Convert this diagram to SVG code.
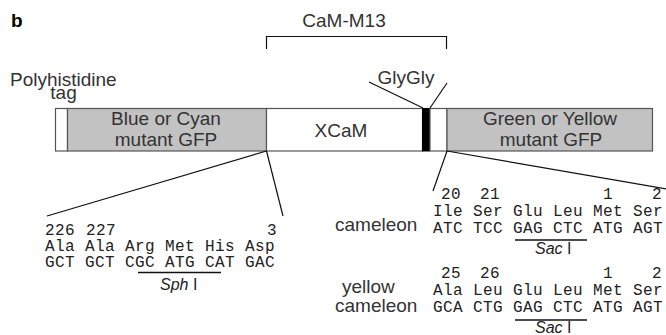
<svg xmlns="http://www.w3.org/2000/svg" width="666" height="335" viewBox="0 0 666 335">
<style>
.sans{font-family:"Liberation Sans",Arial,sans-serif;font-size:19px;fill:#333}
.mono{font-family:"Liberation Mono","Courier New",monospace;font-size:16px;letter-spacing:0.4px;fill:#222}
.site{font-family:"Liberation Sans",Arial,sans-serif;font-size:16px;fill:#222}
.box{stroke:#555;stroke-width:1.2}
.gray{fill:#c2c2c2}
.white{fill:#fff}
.ln{stroke:#111;stroke-width:1.2;fill:none}
.ul{stroke:#111;stroke-width:1.6}
</style>
<rect width="666" height="335" fill="#fff"/>
<text x="11" y="27" font-family="Liberation Sans,Arial,sans-serif" font-size="19" font-weight="bold" fill="#000">b</text>

<g id="label-cam-m13">
<text class="sans" x="344" y="27" text-anchor="middle" font-size="18">CaM-M13</text>
<path class="ln" d="M266.5,49 V36.5 H446.5 V49"/>
</g>

<g id="label-polyhis">
<text class="sans" x="10" y="86" font-size="18.5">Polyhistidine</text>
<text class="sans" x="63.5" y="99" text-anchor="middle" font-size="18.5">tag</text>
</g>

<g id="label-glygly">
<text class="sans" x="406" y="84" text-anchor="middle">GlyGly</text>
</g>

<g id="node-his">
<rect class="box white" x="55.5" y="108.5" width="12" height="42.5"/>
</g>
<g id="node-bcfp">
<rect class="box gray" x="67.5" y="108.5" width="199" height="42.5"/>
<text class="sans" x="166" y="125" text-anchor="middle">Blue or Cyan</text>
<text class="sans" x="166" y="146" text-anchor="middle">mutant GFP</text>
</g>
<g id="node-xcam">
<rect class="box white" x="266.5" y="108.5" width="156" height="42.5"/>
<text class="sans" x="341" y="137" text-anchor="middle">XCaM</text>
</g>
<g id="node-glygly">
<rect x="422" y="108" width="8" height="43.5" fill="#000"/>
</g>
<g id="node-m13">
<rect class="box white" x="430" y="108.5" width="17" height="42.5"/>
</g>
<g id="node-gyfp">
<rect class="box gray" x="447" y="108.5" width="205.5" height="42.5"/>
<text class="sans" x="550" y="125" text-anchor="middle">Green or Yellow</text>
<text class="sans" x="551" y="146" text-anchor="middle">mutant GFP</text>
</g>

<g id="connectors">
<line class="ln" x1="369" y1="82" x2="423" y2="108" stroke-width="1.8"/>
<line class="ln" x1="447" y1="83" x2="430" y2="108" stroke-width="1.8"/>
<line class="ln" x1="266.5" y1="151" x2="47" y2="216"/>
<line class="ln" x1="266.5" y1="151" x2="283" y2="216"/>
<line class="ln" x1="447" y1="151" x2="433" y2="191"/>
<line class="ln" x1="447" y1="151" x2="667" y2="189"/>
</g>

<g id="seq-left">
<text class="mono" x="45" y="235">226</text>
<text class="mono" x="86" y="235">227</text>
<text class="mono" x="267" y="235">3</text>
<text class="mono" x="45" y="251">Ala</text>
<text class="mono" x="85" y="251">Ala</text>
<text class="mono" x="125" y="251">Arg</text>
<text class="mono" x="165" y="251">Met</text>
<text class="mono" x="205" y="251">His</text>
<text class="mono" x="245" y="251">Asp</text>
<text class="mono" x="45" y="267">GCT</text>
<text class="mono" x="85" y="267">GCT</text>
<text class="mono" x="125" y="267">CGC</text>
<text class="mono" x="165" y="267">ATG</text>
<text class="mono" x="205" y="267">CAT</text>
<text class="mono" x="245" y="267">GAC</text>
<line class="ul" x1="138" y1="272.5" x2="221" y2="272.5"/>
<text class="site" x="160" y="290"><tspan font-style="italic">Sph</tspan> I</text>
</g>

<g id="seq-cameleon">
<text class="sans" x="335" y="231">cameleon</text>
<text class="mono" x="441" y="199">20</text>
<text class="mono" x="480" y="199">21</text>
<text class="mono" x="603" y="199">1</text>
<text class="mono" x="652" y="199">2</text>
<text class="mono" x="433" y="216">Ile</text>
<text class="mono" x="473" y="216">Ser</text>
<text class="mono" x="513" y="216">Glu</text>
<text class="mono" x="553" y="216">Leu</text>
<text class="mono" x="593" y="216">Met</text>
<text class="mono" x="633" y="216">Ser</text>
<text class="mono" x="433" y="233">ATC</text>
<text class="mono" x="473" y="233">TCC</text>
<text class="mono" x="513" y="233">GAG</text>
<text class="mono" x="553" y="233">CTC</text>
<text class="mono" x="593" y="233">ATG</text>
<text class="mono" x="633" y="233">AGT</text>
<line class="ul" x1="515" y1="240" x2="587" y2="240"/>
<text class="site" x="535" y="254"><tspan font-style="italic">Sac</tspan> I</text>
</g>

<g id="seq-yellow">
<text class="sans" x="342" y="293">yellow</text>
<text class="sans" x="335" y="312">cameleon</text>
<text class="mono" x="441" y="278">25</text>
<text class="mono" x="480" y="278">26</text>
<text class="mono" x="603" y="278">1</text>
<text class="mono" x="652" y="278">2</text>
<text class="mono" x="433" y="295">Ala</text>
<text class="mono" x="473" y="295">Leu</text>
<text class="mono" x="513" y="295">Glu</text>
<text class="mono" x="553" y="295">Leu</text>
<text class="mono" x="593" y="295">Met</text>
<text class="mono" x="633" y="295">Ser</text>
<text class="mono" x="433" y="312">GCA</text>
<text class="mono" x="473" y="312">CTG</text>
<text class="mono" x="513" y="312">GAG</text>
<text class="mono" x="553" y="312">CTC</text>
<text class="mono" x="593" y="312">ATG</text>
<text class="mono" x="633" y="312">AGT</text>
<line class="ul" x1="515" y1="320" x2="587" y2="320"/>
<text class="site" x="535" y="333"><tspan font-style="italic">Sac</tspan> I</text>
</g>
</svg>
